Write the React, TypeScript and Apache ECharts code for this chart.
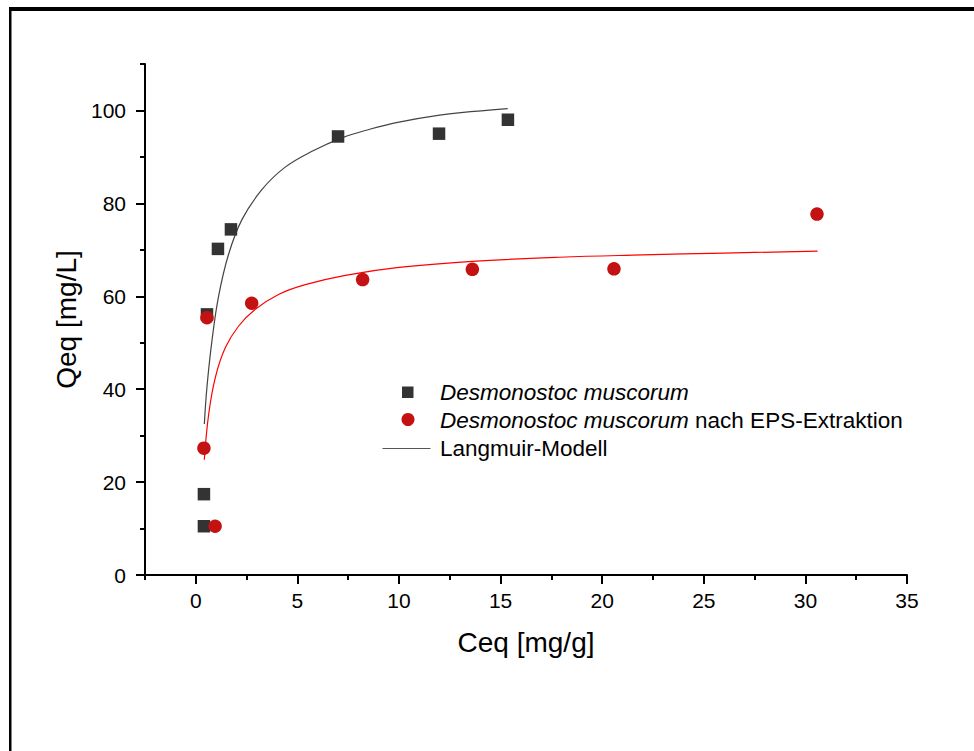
import React, { useEffect, useRef } from 'react';
import * as echarts from 'echarts';

// ---- axis ticks ----
const xTicks = [0, 5, 10, 15, 20, 25, 30, 35];
const xMinorTicks = [-2.5, 2.5, 7.5, 12.5, 17.5, 22.5, 27.5, 32.5];
const yTicks = [0, 20, 40, 60, 80, 100];
const yMinorTicks = [10, 30, 50, 70, 90, 110];

// ---- series names ----
const nameNative = 'Desmonostoc muscorum';
const nameExtracted = 'Desmonostoc muscorum nach EPS-Extraktion';
const nameModel = 'Langmuir-Modell';

// ---- measured points ----
const nativeCeq = [0.4, 0.4, 0.55, 1.09, 1.73, 7.0, 11.97, 15.36];
const nativeQeq = [10.5, 17.4, 56.1, 70.2, 74.4, 94.4, 95.0, 98.0];

const extractedCeq = [0.4, 0.95, 0.55, 2.75, 8.21, 13.61, 20.58, 30.57];
const extractedQeq = [27.3, 10.5, 55.4, 58.5, 63.6, 65.8, 65.9, 77.7];

// ---- Langmuir model curves ----
const fitNativeCeq = [0.42, 0.55, 0.8, 1.12, 1.61, 2.27, 3.26, 4.4, 5.72, 7.19, 8.6, 10.0, 12.0, 13.7, 15.35];
const fitNativeQeq = [32.5, 40.5, 50.6, 60.0, 69.0, 76.5, 83.0, 87.8, 91.2, 94.1, 96.0, 97.5, 99.0, 99.8, 100.4];

const fitExtractedCeq = [0.42, 0.63, 0.96, 1.45, 2.11, 2.93, 4.07, 5.39, 7.36, 10.0, 13.6, 17.9, 22.0, 26.0, 30.6];
const fitExtractedQeq = [24.8, 34.5, 42.5, 48.9, 53.6, 57.2, 60.4, 62.5, 64.5, 66.2, 67.5, 68.4, 68.9, 69.3, 69.7];

const FONT = "'Liberation Sans', Arial, Helvetica, sans-serif";
const SQUARE_COLOR = '#333333';
const CIRCLE_COLOR = '#C41212';
const LEGEND_FONT = 22.5;

const zip = (xs: number[], ys: number[]) => xs.map((x, i) => [x, ys[i]]);

export default function App() {
  const ref = useRef<HTMLDivElement>(null);

  useEffect(() => {
    if (!ref.current) return;
    const chart = echarts.init(ref.current, null, { renderer: 'svg' });

    const axisLineStyle = { color: '#000', width: 2 };

    const option: any = {
      animation: false,
      backgroundColor: '#ffffff',
      grid: { left: 145, right: 67, top: 64, bottom: 176 },
      xAxis: [
        {
          type: 'value',
          min: -2.5,
          max: 35,
          position: 'bottom',
          axisLine: { show: true, onZero: false, lineStyle: axisLineStyle },
          axisTick: { show: true, customValues: xTicks, length: 9, lineStyle: axisLineStyle },
          axisLabel: { show: true, customValues: xTicks, fontSize: 21, color: '#000', margin: 15, fontFamily: FONT },
          splitLine: { show: false },
          name: 'Ceq [mg/g]',
          nameLocation: 'middle',
          nameGap: 53,
          nameTextStyle: { fontSize: 28, color: '#000', fontFamily: FONT },
        },
        {
          type: 'value',
          min: -2.5,
          max: 35,
          position: 'bottom',
          axisLine: { show: false, onZero: false },
          axisTick: { show: true, customValues: xMinorTicks, length: 5, lineStyle: axisLineStyle },
          axisLabel: { show: false },
          splitLine: { show: false },
        },
      ],
      yAxis: [
        {
          type: 'value',
          min: 0,
          max: 110,
          position: 'left',
          axisLine: { show: true, onZero: false, lineStyle: axisLineStyle },
          axisTick: { show: true, customValues: yTicks, length: 9, lineStyle: axisLineStyle },
          axisLabel: { show: true, customValues: yTicks, fontSize: 21, color: '#000', margin: 19, fontFamily: FONT },
          splitLine: { show: false },
          name: 'Qeq [mg/L]',
          nameLocation: 'middle',
          nameGap: 62,
          nameTextStyle: { fontSize: 28, color: '#000', fontFamily: FONT },
        },
        {
          type: 'value',
          min: 0,
          max: 110,
          position: 'left',
          axisLine: { show: false, onZero: false },
          axisTick: { show: true, customValues: yMinorTicks, length: 5, lineStyle: axisLineStyle },
          axisLabel: { show: false },
          splitLine: { show: false },
        },
      ],
      series: [
        {
          name: nameModel,
          type: 'line',
          xAxisIndex: 0,
          yAxisIndex: 0,
          data: zip(fitNativeCeq, fitNativeQeq),
          showSymbol: false,
          symbol: 'none',
          smooth: 0.4,
          lineStyle: { color: '#444444', width: 1.2 },
          z: 2,
        },
        {
          name: nameModel + ' ',
          type: 'line',
          xAxisIndex: 0,
          yAxisIndex: 0,
          data: zip(fitExtractedCeq, fitExtractedQeq),
          showSymbol: false,
          symbol: 'none',
          smooth: 0.4,
          lineStyle: { color: '#FF0000', width: 1.2 },
          z: 2,
        },
        {
          name: nameNative,
          type: 'scatter',
          xAxisIndex: 0,
          yAxisIndex: 0,
          data: zip(nativeCeq, nativeQeq),
          symbol: 'rect',
          symbolSize: 12.5,
          itemStyle: { color: SQUARE_COLOR, opacity: 1 },
          z: 3,
        },
        {
          name: nameExtracted,
          type: 'scatter',
          xAxisIndex: 0,
          yAxisIndex: 0,
          data: zip(extractedCeq, extractedQeq),
          symbol: 'circle',
          symbolSize: 13.5,
          itemStyle: { color: CIRCLE_COLOR, opacity: 1 },
          z: 4,
        },
      ],
      graphic: [
        // outer frame (top and left edges)
        { type: 'rect', shape: { x: 9, y: 7, width: 965, height: 4 }, style: { fill: '#000' }, silent: true },
        { type: 'rect', shape: { x: 9, y: 7, width: 2.5, height: 744 }, style: { fill: '#000' }, silent: true },
        // legend
        { type: 'rect', shape: { x: 402, y: 386.5, width: 11.5, height: 11.5 }, style: { fill: SQUARE_COLOR } },
        { type: 'circle', shape: { cx: 408, cy: 419.5, r: 6.5 }, style: { fill: CIRCLE_COLOR } },
        { type: 'line', shape: { x1: 382.5, y1: 448.5, x2: 430.5, y2: 448.5 }, style: { stroke: '#555', lineWidth: 1.2 } },
        {
          type: 'text',
          x: 440,
          y: 392,
          style: {
            text: '{i|' + nameNative + '}',
            verticalAlign: 'middle',
            rich: { i: { fontStyle: 'italic', fontSize: LEGEND_FONT, fontFamily: FONT, fill: '#000' } },
          },
        },
        {
          type: 'text',
          x: 440,
          y: 420,
          style: {
            text: '{i|' + nameNative + '}{n| nach EPS-Extraktion}',
            verticalAlign: 'middle',
            rich: {
              i: { fontStyle: 'italic', fontSize: LEGEND_FONT, fontFamily: FONT, fill: '#000' },
              n: { fontSize: LEGEND_FONT, fontFamily: FONT, fill: '#000' },
            },
          },
        },
        {
          type: 'text',
          x: 440,
          y: 448.5,
          style: { text: nameModel, verticalAlign: 'middle', fontSize: LEGEND_FONT, fontFamily: FONT, fill: '#000' },
        },
      ],
    };

    chart.setOption(option);
    return () => chart.dispose();
  }, []);

  return (
    <div
      ref={ref}
      style={{ position: 'absolute', left: 0, top: 0, width: 974, height: 751, background: '#fff' }}
    />
  );
}
